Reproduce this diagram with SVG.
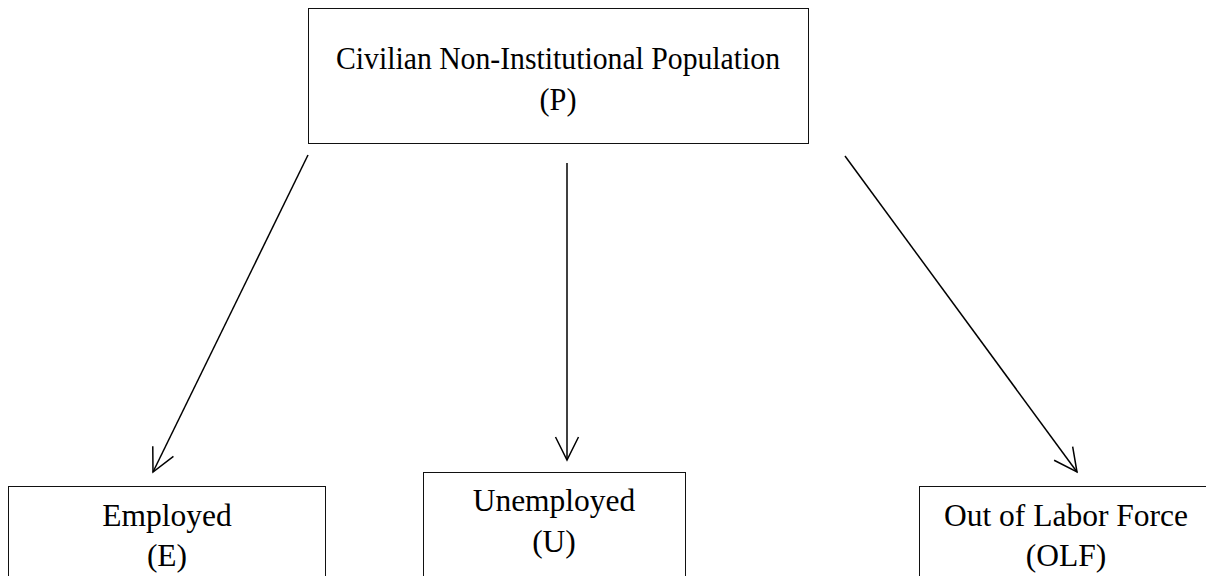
<svg xmlns="http://www.w3.org/2000/svg" width="1206" height="576" viewBox="0 0 1206 576">
<style>
.box{fill:#fff;stroke:#111;stroke-width:1}
.t{font-family:"Liberation Serif","Times New Roman",serif;fill:#000;text-anchor:middle}
.top{font-size:32px}
.bot{font-size:31.5px}
.c{stroke:#000;stroke-width:1.5;fill:none}
</style>
<defs>
<marker id="arr" markerUnits="userSpaceOnUse" markerWidth="30" markerHeight="30" viewBox="-26 -15 30 30" refX="0" refY="0" orient="auto">
<path d="M-23,-11.5 L0,0 L-23,11.5" fill="none" stroke="#000" stroke-width="1.5"/>
</marker>
</defs>
<rect width="1206" height="576" fill="#fff"/>
<g id="connectors">
<line class="c" x1="308" y1="155" x2="153" y2="472" marker-end="url(#arr)"/>
<line class="c" x1="567" y1="163" x2="567" y2="460" marker-end="url(#arr)"/>
<line class="c" x1="845" y1="156" x2="1077" y2="472" marker-end="url(#arr)"/>
</g>
<g id="node-P">
<rect class="box" x="308.5" y="8.5" width="500" height="135"/>
<text class="t top" x="558" y="69" textLength="444" lengthAdjust="spacingAndGlyphs">Civilian Non-Institutional Population</text>
<text class="t top" x="558" y="110" textLength="37" lengthAdjust="spacingAndGlyphs">(P)</text>
</g>
<g id="node-E">
<rect class="box" x="8.5" y="486.5" width="317" height="100"/>
<text class="t bot" x="167" y="526">Employed</text>
<text class="t bot" x="167" y="566">(E)</text>
</g>
<g id="node-U">
<rect class="box" x="423.5" y="472.5" width="262" height="120"/>
<text class="t bot" x="554" y="511">Unemployed</text>
<text class="t bot" x="554" y="552">(U)</text>
</g>
<g id="node-OLF">
<rect class="box" x="919.5" y="486.5" width="300" height="100"/>
<text class="t bot" x="1066" y="526">Out of Labor Force</text>
<text class="t bot" x="1066" y="566">(OLF)</text>
</g>
</svg>
